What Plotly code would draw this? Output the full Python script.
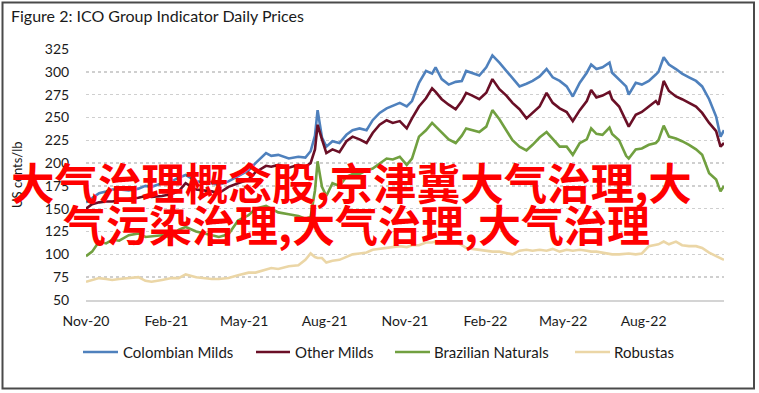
import plotly.graph_objects as go

# ---------------- data ----------------
dates = [
    "2020-11-01", "2020-11-08", "2020-11-16", "2020-11-24", "2020-12-01", "2020-12-09",
    "2020-12-20", "2020-12-31", "2021-01-08", "2021-01-15", "2021-01-27", "2021-02-07",
    "2021-02-15", "2021-02-23", "2021-03-07", "2021-03-25", "2021-04-02", "2021-04-13",
    "2021-04-24", "2021-05-06", "2021-05-14", "2021-05-26", "2021-06-01", "2021-06-09",
    "2021-06-21", "2021-07-02", "2021-07-10", "2021-07-16", "2021-07-21", "2021-07-24",
    "2021-07-29", "2021-08-03", "2021-08-10", "2021-08-18", "2021-08-26", "2021-09-02",
    "2021-09-10", "2021-09-18", "2021-09-25", "2021-10-03", "2021-10-11", "2021-10-18",
    "2021-10-26", "2021-11-03", "2021-11-09", "2021-11-17", "2021-11-25", "2021-12-02",
    "2021-12-06", "2021-12-13", "2021-12-21", "2021-12-29", "2022-01-05", "2022-01-10",
    "2022-01-17", "2022-01-25", "2022-02-02", "2022-02-09", "2022-02-17", "2022-02-25",
    "2022-03-04", "2022-03-12", "2022-03-20", "2022-03-27", "2022-04-04", "2022-04-12",
    "2022-04-19", "2022-04-27", "2022-05-05", "2022-05-12", "2022-05-20", "2022-05-28",
    "2022-06-02", "2022-06-08", "2022-06-15", "2022-06-23", "2022-06-26", "2022-07-04",
    "2022-07-12", "2022-07-15", "2022-07-23", "2022-07-30", "2022-08-07", "2022-08-15",
    "2022-08-18", "2022-08-24", "2022-08-30", "2022-09-07", "2022-09-14", "2022-09-22",
    "2022-09-30", "2022-10-07", "2022-10-15", "2022-10-23", "2022-10-28", "2022-11-01",
]

colombian_milds = [
    157, 162, 167, 169, 171, 171, 170, 172, 175, 174, 178, 180,
    184, 187, 180, 178, 176, 180, 186, 192, 200, 211, 208, 209,
    205, 207, 206, 213, 230, 258, 228, 218, 224, 222, 231, 236,
    238, 236, 247, 255, 260, 263, 266, 262, 268, 288, 301, 298,
    305, 292, 286, 289, 290, 301, 299, 296, 305, 318, 310, 301,
    292, 284, 287, 290, 295, 303, 294, 290, 284, 273, 288, 299,
    308, 303, 305, 310, 299, 292, 284, 275, 288, 286, 290, 297,
    300, 316, 308, 303, 298, 294, 290, 284, 270, 251, 229, 236,
]

other_milds = [
    150, 155, 157, 158, 158, 159, 160, 162, 164, 163, 164, 166,
    169, 178, 171, 169, 167, 174, 178, 182, 190, 197, 196, 198,
    195, 198, 196, 200, 215, 242, 226, 211, 215, 212, 224, 229,
    226, 222, 233, 242, 247, 244, 246, 238, 249, 262, 271, 282,
    278, 270, 264, 259, 268, 277, 274, 270, 277, 292, 281, 274,
    266, 259, 249, 255, 262, 277, 266, 260, 256, 246, 258, 268,
    280, 272, 274, 278, 270, 262, 246, 240, 253, 256, 262, 268,
    264, 290, 279, 273, 270, 266, 262, 255, 244, 235, 218, 222,
]

brazilian_naturals = [
    98, 103, 114, 112, 116, 115, 121, 123, 119, 120, 121, 118,
    127, 130, 125, 121, 119, 122, 137, 143, 150, 153, 150, 146,
    144, 142, 139, 141, 170, 202, 174, 164, 178, 175, 185, 188,
    188, 192, 194, 200, 205, 204, 207, 198, 205, 229, 236, 244,
    240, 233, 226, 222, 230, 238, 236, 234, 240, 258, 248, 236,
    225, 218, 214, 220, 228, 234, 226, 218, 218, 209, 222, 226,
    238, 232, 231, 239, 232, 225, 208, 205, 215, 216, 220, 222,
    225, 241, 229, 227, 224, 220, 215, 209, 189, 182, 169, 175,
]

robustas = [
    70, 72, 74, 73, 72, 73, 74, 75, 71, 70, 72, 74,
    74, 78, 75, 73, 73, 74, 77, 80, 80, 83, 85, 84,
    87, 88, 94, 101, 97, 96, 96, 91, 93, 94, 97, 100,
    101, 102, 105, 106, 107, 108, 109, 108, 110, 110, 113, 113,
    114, 114, 114, 114, 110, 107, 106, 105, 104, 103, 103, 101,
    100, 104, 105, 104, 105, 104, 106, 103, 105, 104, 105, 104,
    103, 103, 102, 101, 100, 100, 101, 101, 100, 101, 109, 110,
    111, 114, 111, 114, 110, 109, 109, 107, 102, 98, 96, 94,
]

series_names = ["Colombian Milds", "Other Milds", "Brazilian Naturals", "Robustas"]
series_values = [colombian_milds, other_milds, brazilian_naturals, robustas]

x_ticks = ["2020-11-01", "2021-02-01", "2021-05-01", "2021-08-01",
           "2021-11-01", "2022-02-01", "2022-05-01", "2022-08-01"]
x_tick_labels = ["Nov-20", "Feb-21", "May-21", "Aug-21",
                 "Nov-21", "Feb-22", "May-22", "Aug-22"]
y_ticks = [50, 75, 100, 125, 150, 175, 200, 225, 250, 275, 300, 325]

title_text = "Figure 2: ICO Group Indicator Daily Prices"
y_title = "US cents/lb"
overlay_line1 = "大气治理概念股,京津冀大气治理,大"
overlay_line2 = "气污染治理,大气治理,大气治理"

# ---------------- styling / layout ----------------
colors = ["#4F81BD", "#6A0F26", "#71A040", "#EBD6A6"]

W, H = 759, 393
L, R, T, B = 86, 35, 49, 93
PW, PH = W - L - R, H - T - B


def px(x):
    return (x - L) / PW


def py(y):
    return (H - B - y) / PH


FONT = "Lato, 'Open Sans', sans-serif"
CJK = "'Noto Sans CJK SC', sans-serif"

fig = go.Figure()
for name, vals, col in zip(series_names, series_values, colors):
    fig.add_trace(go.Scatter(
        x=dates, y=vals, name=name, mode="lines",
        line=dict(color=col, width=2.6),
        hoverinfo="skip", showlegend=False,
    ))

# legend drawn by hand so the entries sit where the reference has them
legend_line_x = [(83, 118), (256, 290), (395, 430), (575, 610)]
legend_text_x = [121, 293, 432, 612]
legend_y = 352

shapes = [
    dict(type="rect", xref="paper", yref="paper",
         x0=px(2.5), x1=px(754), y0=py(388.5), y1=py(2.5),
         line=dict(color="#4a4a4a", width=2), fillcolor="rgba(0,0,0,0)",
         layer="above"),
]
annotations = [
    dict(text=title_text, xref="paper", yref="paper",
         x=px(9), y=py(16), xanchor="left", yanchor="middle",
         showarrow=False, font=dict(family=FONT, size=16, color="#1a1a1a")),
    dict(text=y_title, xref="paper", yref="paper", textangle=-90,
         x=px(17), y=py(175), xanchor="center", yanchor="middle",
         showarrow=False, font=dict(family=FONT, size=13, color="#1a1a1a")),
]
for name, col, (x0, x1), tx in zip(series_names, colors, legend_line_x, legend_text_x):
    shapes.append(dict(type="line", xref="paper", yref="paper",
                       x0=px(x0), x1=px(x1), y0=py(legend_y), y1=py(legend_y),
                       line=dict(color=col, width=2.6)))
    annotations.append(dict(text=name, xref="paper", yref="paper",
                            x=px(tx), y=py(legend_y), xanchor="left", yanchor="middle",
                            showarrow=False,
                            font=dict(family=FONT, size=15, color="#1a1a1a")))

annotations += [
    dict(text="<b>" + overlay_line1 + "</b>", xref="paper", yref="paper",
         x=px(9), y=py(181), xanchor="left", yanchor="middle",
         showarrow=False, font=dict(family=CJK, size=43.5, color="#FF0000")),
    dict(text="<b>" + overlay_line2 + "</b>", xref="paper", yref="paper",
         x=px(61), y=py(223), xanchor="left", yanchor="middle",
         showarrow=False, font=dict(family=CJK, size=43, color="#FF0000")),
]

fig.update_layout(
    width=W, height=H,
    margin=dict(l=L, r=R, t=T, b=B, pad=0),
    paper_bgcolor="white", plot_bgcolor="white",
    font=dict(family=FONT, size=14, color="#1a1a1a"),
    showlegend=False,
    xaxis=dict(
        type="date", range=["2020-11-01", "2022-11-01"],
        tickmode="array", tickvals=x_ticks, ticktext=x_tick_labels,
        showgrid=False, zeroline=False,
        showline=True, linecolor="#D4D4D4", linewidth=1.5,
        ticks="outside", ticklen=8, tickcolor="rgba(0,0,0,0)",
        tickfont=dict(family=FONT, size=14, color="#1a1a1a"),
    ),
    yaxis=dict(
        range=[50, 325], tickmode="array", tickvals=y_ticks,
        showgrid=True, gridcolor="#CFCFCF", gridwidth=1.5, griddash="dot",
        zeroline=False, showline=False,
        ticks="outside", ticklen=13, tickcolor="rgba(0,0,0,0)",
        tickfont=dict(family=FONT, size=14, color="#1a1a1a"),
    ),
    shapes=shapes,
    annotations=annotations,
)

fig.write_html(
    "out.html",
    config={"displayModeBar": False, "staticPlot": True},
    post_script="document.body.style.margin='0';document.body.style.overflow='hidden';",
)
